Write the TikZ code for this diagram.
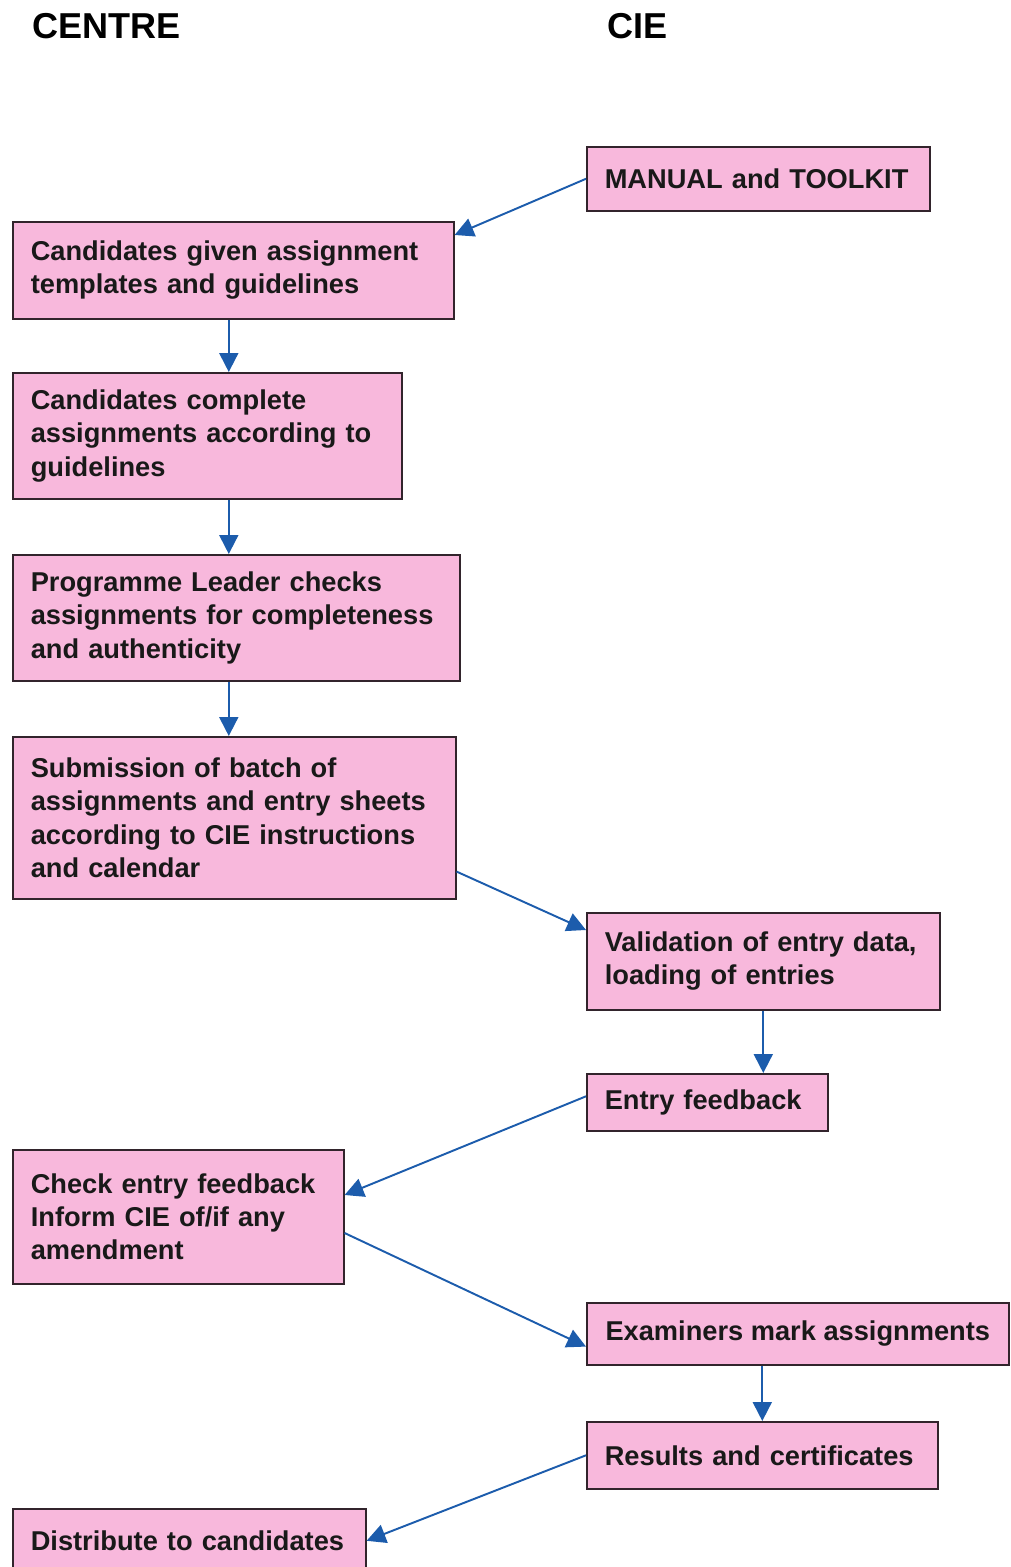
\documentclass[tikz,border=0pt]{standalone}
\usepackage{fontspec}
\setmainfont{Liberation Sans}
\usetikzlibrary{arrows.meta}
\definecolor{boxpink}{RGB}{248,184,220}
\definecolor{arrowblue}{RGB}{28,92,172}
\definecolor{boxline}{RGB}{50,36,44}
\begin{document}
\begin{tikzpicture}[
  box/.style={draw=boxline, line width=0.9pt, fill=boxpink, anchor=north west,
    align=left, inner xsep=0.36cm, inner ysep=0pt, text=black!90,
    font=\fontsize{15.5}{19}\selectfont\bfseries},
  head/.style={anchor=west, font=\fontsize{20.5}{24}\selectfont\bfseries},
  flow/.style={draw=arrowblue, line width=1.1pt,
    -{Triangle[width=0.38cm, length=0.38cm]}}]
  \useasboundingbox (0,0) rectangle (20.2,-31.34);
  \node[head] (centre) at (0.52,-0.52) {CENTRE};
  \node[head] (cie) at (12.02,-0.52) {CIE};
  \node[box, text width=6.14cm, minimum height=1.28cm] (manual) at (11.72,-2.92)
    {MANUAL and TOOLKIT};
  \node[box, text width=8.10cm, minimum height=1.94cm] (given) at (0.24,-4.42)
    {Candidates given assignment\\templates and guidelines};
  \node[box, text width=7.06cm, minimum height=2.52cm] (complete) at (0.24,-7.44)
    {Candidates complete\\assignments according to\\guidelines};
  \node[box, text width=8.22cm, minimum height=2.52cm] (checks) at (0.24,-11.08)
    {Programme Leader checks\\assignments for completeness\\and authenticity};
  \node[box, text width=8.14cm, minimum height=3.24cm] (submit) at (0.24,-14.72)
    {Submission of batch of\\assignments and entry sheets\\according to CIE instructions\\and calendar};
  \node[box, text width=6.34cm, minimum height=1.94cm] (valid) at (11.72,-18.24)
    {Validation of entry data,\\loading of entries};
  \node[box, text width=4.10cm, minimum height=1.14cm] (feedback) at (11.72,-21.46)
    {Entry feedback};
  \node[box, text width=5.90cm, minimum height=2.68cm] (inform) at (0.24,-22.98)
    {Check entry feedback\\Inform CIE of/if any\\amendment};
  \node[box, inner xsep=0.28cm, minimum width=8.44cm, minimum height=1.24cm] (mark) at (11.72,-26.04)
    {Examiners mark assignments};
  \node[box, text width=6.30cm, minimum height=1.34cm] (results) at (11.72,-28.42)
    {Results and certificates};
  \node[box, text width=6.34cm, minimum height=1.28cm] (distribute) at (0.24,-30.16)
    {Distribute to candidates};

  \draw[flow] (manual.west) -- ([yshift=-0.28cm]given.north east);
  \draw[flow] ([xshift=-0.09cm]given.south) -- ([xshift=-0.09cm]complete.north -| given.south);
  \draw[flow] ([xshift=-0.09cm]complete.south -| given.south) -- ([xshift=-0.09cm]checks.north -| given.south);
  \draw[flow] ([xshift=-0.09cm]checks.south -| given.south) -- ([xshift=-0.09cm]submit.north -| given.south);
  \draw[flow] ([yshift=0.56cm]submit.south east) -- ([yshift=-0.36cm]valid.north west);
  \draw[flow] (valid.south) -- (valid.south |- feedback.north);
  \draw[flow] ([yshift=0.12cm]feedback.west) -- ([yshift=-0.92cm]inform.north east);
  \draw[flow] ([yshift=-1.68cm]inform.north east) -- ([yshift=0.38cm]mark.south west);
  \draw[flow] (mark.south -| results.north) -- (results.north);
  \draw[flow] (results.west) -- (distribute.east);
\end{tikzpicture}
\end{document}
